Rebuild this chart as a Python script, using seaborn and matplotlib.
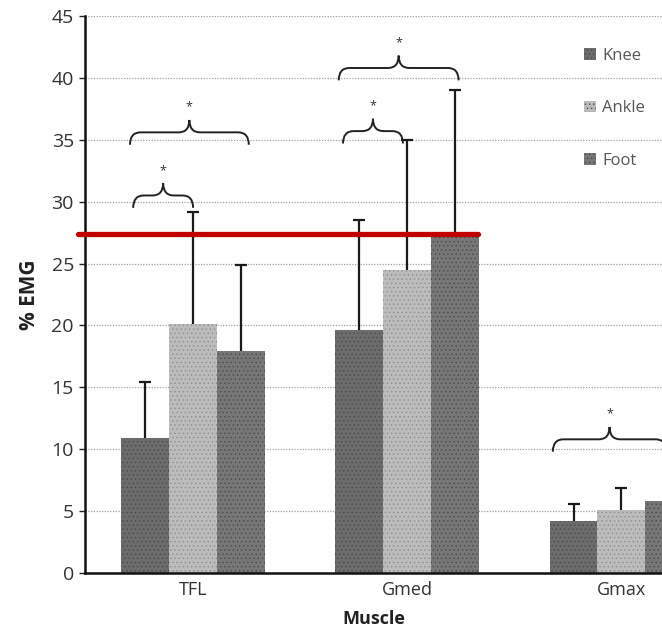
import numpy as np
import pandas as pd
import matplotlib
matplotlib.use("Agg")
import matplotlib.pyplot as plt
from matplotlib.path import Path
from matplotlib.patches import PathPatch
import seaborn as sns

# ---- data ----
muscles = ["TFL", "Gmed", "Gmax"]
conditions = ["Knee", "Ankle", "Foot"]
knee_mean = [10.9, 19.6, 4.2]
ankle_mean = [20.1, 24.5, 5.1]
foot_mean = [17.9, 27.3, 5.8]
knee_sd = [4.5, 8.9, 1.4]
ankle_sd = [9.1, 10.5, 1.8]
foot_sd = [7.0, 11.7, 1.5]
yticks = [0, 5, 10, 15, 20, 25, 30, 35, 40, 45]
reference_level = 27.4
# significance braces: (muscle index, left offset, right offset, base y)
brace_muscle = [0, 0, 1, 1, 2]
brace_left = [-0.28, -0.295, -0.30, -0.32, -0.32]
brace_right = [0.0, 0.26, -0.02, 0.24, 0.21]
brace_base = [29.5, 34.6, 34.7, 39.8, 9.8]
brace_label = ["*", "*", "*", "*", "*"]

colors = ["#6c6c6c", "#bcbcbc", "#777777"]

df = pd.DataFrame({
    "Muscle": muscles * 3,
    "Condition": [c for c in conditions for _ in muscles],
    "EMG": knee_mean + ankle_mean + foot_mean,
})
sds = [knee_sd, ankle_sd, foot_sd]

sns.set_style("white")
plt.rcParams["font.family"] = ["Open Sans", "DejaVu Sans"]
plt.rcParams["hatch.linewidth"] = 0.5

fig = plt.figure(figsize=(6.62, 6.31), dpi=100)
ax = fig.add_axes([85 / 662, 58 / 631, 577 / 662, 557 / 631])

sns.barplot(data=df, x="Muscle", y="EMG", hue="Condition", order=muscles,
            hue_order=conditions, palette=colors, width=0.67, gap=0,
            errorbar=None, ax=ax, legend=False, edgecolor="none",
            linewidth=0)

# texture-like stipple
for cont, c in zip(ax.containers, colors):
    for bar in cont:
        bar.set_hatch("....")
        bar.set_edgecolor("#4a4a4a" if c != "#bcbcbc" else "#8e8e8e")
        bar.set_linewidth(0)

# upper error bars (cap at top only)
for cont, sd in zip(ax.containers, sds):
    xs = [b.get_x() + b.get_width() / 2 for b in cont]
    hs = [b.get_height() for b in cont]
    _, caps, _ = ax.errorbar(xs, hs, yerr=[np.zeros(len(sd)), sd],
                             fmt="none", ecolor="#1a1a1a", elinewidth=1.6,
                             capsize=4, capthick=1.6)
    for cap in caps:
        if np.allclose(cap.get_ydata(), hs):
            cap.set_visible(False)

ax.set_xlim(-0.505, 2.19)
ax.set_ylim(0, 45)
ax.set_yticks(yticks)
ax.set_yticklabels([str(t) for t in yticks], fontsize=14, color="#333333")
ax.tick_params(axis="x", labelsize=13, colors="#333333", length=0, pad=6)
ax.tick_params(axis="y", length=4, width=1, color="#222222", pad=4, left=True)
ax.grid(axis="y", linestyle=(0, (1.0, 1.2)), color="#a0a0a0", linewidth=0.9)
ax.set_axisbelow(True)
for s in ["top", "right"]:
    ax.spines[s].set_visible(False)
ax.spines["left"].set_color("#111111")
ax.spines["left"].set_linewidth(1.8)
ax.spines["bottom"].set_color("#111111")
ax.spines["bottom"].set_linewidth(1.8)

ax.set_xlabel("Muscle", fontsize=13, fontweight="bold", color="#222222",
              labelpad=8)
ax.set_ylabel("% EMG", fontsize=15, fontweight="bold", color="#222222",
              labelpad=8)

# red reference line
ax.axhline(reference_level, xmin=-0.012, xmax=(478 - 85) / 577,
           color="#c00000", linewidth=3.8, clip_on=False, zorder=5)


def brace(ax, x0, x1, yb, label):
    h = 1.0
    dx = 0.05
    xm = (x0 + x1) / 2
    yl = yb + h
    yt = yl + h
    verts = [(x0, yb), (x0, yl), (x0 + dx, yl),
             (xm - dx, yl), (xm, yl), (xm, yt),
             (xm, yl), (xm + dx, yl),
             (x1 - dx, yl), (x1, yl), (x1, yb)]
    codes = [Path.MOVETO, Path.CURVE3, Path.CURVE3,
             Path.LINETO, Path.CURVE3, Path.CURVE3,
             Path.CURVE3, Path.CURVE3,
             Path.LINETO, Path.CURVE3, Path.CURVE3]
    ax.add_patch(PathPatch(Path(verts, codes), fill=False, lw=1.4,
                           ec="#222222", clip_on=False, zorder=6))
    ax.text(xm, yt + 0.5, label, ha="center", va="bottom", fontsize=9,
            color="#333333")


for m, l, r, b, lab in zip(brace_muscle, brace_left, brace_right,
                           brace_base, brace_label):
    brace(ax, m + l, m + r, b, lab)

# legend
handles = [plt.Rectangle((0, 0), 1, 1, fc=c, hatch="....",
                         ec="#4a4a4a", lw=0) for c in colors]
ax.legend(handles, conditions, loc="upper left",
          bbox_to_anchor=((569 - 85) / 577, 0.97),
          frameon=False, fontsize=12, labelspacing=2.2, handlelength=0.7,
          handleheight=0.7, handletextpad=0.4, labelcolor="#555555")

fig.savefig("out.png", dpi=100)
